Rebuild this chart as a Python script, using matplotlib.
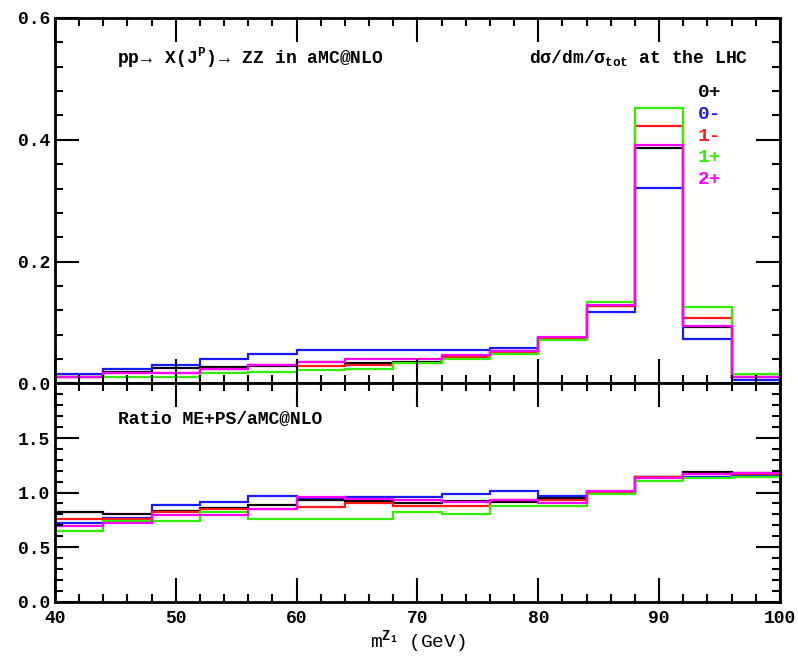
import numpy as np
import matplotlib.pyplot as plt
from matplotlib.ticker import MultipleLocator

# bin edges in m(Z1) [GeV]
edges = np.arange(40, 101, 4)

labels = ["0+", "0-", "1-", "1+", "2+"]
colors = ["black", "#1a1aff", "#ff1a1a", "#33ee00", "#ff00ff"]

# normalised distributions dsigma/dm/sigma_tot
dist_0p = [0.011, 0.019, 0.025, 0.027, 0.029, 0.036, 0.033, 0.036, 0.045, 0.054, 0.075, 0.128, 0.386, 0.093, 0.010]
dist_0m = [0.015, 0.023, 0.031, 0.041, 0.049, 0.055, 0.055, 0.055, 0.055, 0.059, 0.075, 0.117, 0.321, 0.073, 0.006]
dist_1m = [0.010, 0.017, 0.018, 0.023, 0.031, 0.028, 0.030, 0.034, 0.043, 0.052, 0.075, 0.128, 0.422, 0.107, 0.010]
dist_1p = [0.010, 0.010, 0.011, 0.017, 0.019, 0.022, 0.023, 0.033, 0.040, 0.049, 0.072, 0.134, 0.452, 0.125, 0.016]
dist_2p = [0.010, 0.017, 0.018, 0.023, 0.031, 0.036, 0.040, 0.040, 0.047, 0.053, 0.077, 0.129, 0.392, 0.095, 0.010]

# ratio ME+PS / aMC@NLO
ratio_0p = [0.82, 0.80, 0.83, 0.86, 0.89, 0.93, 0.92, 0.90, 0.92, 0.91, 0.95, 1.00, 1.14, 1.19, 1.18]
ratio_0m = [0.72, 0.77, 0.89, 0.91, 0.97, 0.95, 0.96, 0.96, 0.99, 1.01, 0.97, 1.00, 1.14, 1.14, 1.16]
ratio_1m = [0.76, 0.76, 0.82, 0.85, 0.85, 0.87, 0.90, 0.88, 0.88, 0.93, 0.93, 1.00, 1.14, 1.17, 1.17]
ratio_1p = [0.65, 0.74, 0.74, 0.82, 0.76, 0.76, 0.76, 0.82, 0.80, 0.88, 0.88, 0.99, 1.11, 1.13, 1.14]
ratio_2p = [0.69, 0.72, 0.79, 0.79, 0.85, 0.96, 0.94, 0.93, 0.91, 0.93, 0.90, 1.01, 1.13, 1.17, 1.18]

dists = [dist_0p, dist_0m, dist_1m, dist_1p, dist_2p]
ratios = [ratio_0p, ratio_0m, ratio_1m, ratio_1p, ratio_2p]

font = "Liberation Mono"
plt.rcParams["font.family"] = [font, "DejaVu Sans"]
plt.rcParams["font.weight"] = "bold"
plt.rcParams["mathtext.fontset"] = "custom"
plt.rcParams["mathtext.rm"] = font + ":bold"
plt.rcParams["mathtext.it"] = font + ":bold"

fig = plt.figure(figsize=(7.98, 6.58), dpi=100)
ax1 = fig.add_axes([0.0689, 0.4172, 0.9085, 0.5555])
ax2 = fig.add_axes([0.0689, 0.0856, 0.9085, 0.3316])

for v, c in zip(dists, colors):
    ax1.stairs(v, edges, baseline=None, color=c, lw=1.6)
for v, c in zip(ratios, colors):
    ax2.stairs(v, edges, baseline=None, color=c, lw=1.6)

ax1.set_xlim(40, 100)
ax1.set_ylim(0, 0.6)
ax2.set_xlim(40, 100)
ax2.set_ylim(0, 2.0)

for ax in (ax1, ax2):
    ax.xaxis.set_major_locator(MultipleLocator(10))
    ax.xaxis.set_minor_locator(MultipleLocator(2))
    ax.tick_params(which="both", direction="in", top=True, right=True, width=1.5)
    ax.tick_params(which="major", length=17, labelsize=13)
    ax.tick_params(which="minor", length=6)
    for s in ax.spines.values():
        s.set_linewidth(2)

ax1.yaxis.set_minor_locator(MultipleLocator(0.04))
ax1.set_yticks([0.0, 0.2, 0.4, 0.6])
ax1.set_yticklabels(["0.0", "0.2", "0.4", "0.6"])
ax1.tick_params(labelbottom=False)

ax2.yaxis.set_minor_locator(MultipleLocator(0.1))
ax2.set_yticks([0.0, 0.5, 1.0, 1.5, 2.0])
ax2.set_yticklabels(["0.0", "0.5", "1.0", "1.5", ""])
ax2.set_xticks([40, 50, 60, 70, 80, 90, 100])
ax2.set_xticklabels(["40", "50", "60", "70", "80", "90", "100"])
ax2.tick_params(axis="x", which="major", pad=6)

# unity marks drawn in grey
one_tick = ax2.yaxis.get_major_ticks()[2]
one_tick.tick1line.set_color("#999999")
one_tick.tick2line.set_color("#999999")

ax2.set_xlabel(r"m$^{\mathrm{Z_1}}$ (GeV)", fontsize=14, labelpad=1)

ax1.text(0.0855, 0.89, r"pp$\rightarrow$ X(J$^{\mathrm{P}}$)$\rightarrow$ ZZ in aMC@NLO",
         transform=ax1.transAxes, fontsize=13, va="center", ha="left")
ax1.text(0.956, 0.89, r"d$\sigma$/dm/$\sigma_{\mathrm{tot}}$ at the LHC",
         transform=ax1.transAxes, fontsize=13, va="center", ha="right")

leg_y = [0.795, 0.737, 0.677, 0.617, 0.557]
for lab, c, y in zip(labels, colors, leg_y):
    ax1.text(0.887, y, lab, color=c, transform=ax1.transAxes, fontsize=14,
             va="center", ha="left")

ax2.text(0.087, 0.837, "Ratio ME+PS/aMC@NLO", transform=ax2.transAxes,
         fontsize=13, va="center", ha="left")

fig.savefig("out.png", dpi=100)
